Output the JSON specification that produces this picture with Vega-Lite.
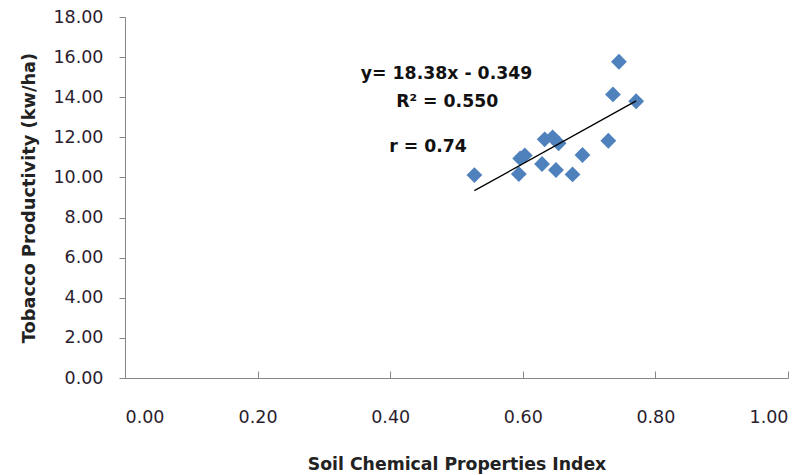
{
  "$schema": "https://vega.github.io/schema/vega-lite/v6.json",
  "width": 663,
  "height": 361,
  "autosize": {"type": "none"},
  "padding": {"left": 125, "top": 17, "right": 24, "bottom": 97},
  "background": "white",
  "config": {"view": {"stroke": null}, "font": "DejaVu Sans"},
  "datasets": {
    "points": [
      {"sci": 0.527, "prod": 10.12},
      {"sci": 0.594, "prod": 10.17},
      {"sci": 0.596, "prod": 10.95},
      {"sci": 0.603, "prod": 11.10},
      {"sci": 0.629, "prod": 10.67},
      {"sci": 0.633, "prod": 11.90},
      {"sci": 0.645, "prod": 12.00},
      {"sci": 0.650, "prod": 10.37},
      {"sci": 0.654, "prod": 11.70},
      {"sci": 0.675, "prod": 10.15},
      {"sci": 0.690, "prod": 11.12},
      {"sci": 0.729, "prod": 11.83},
      {"sci": 0.736, "prod": 14.14},
      {"sci": 0.745, "prod": 15.77},
      {"sci": 0.771, "prod": 13.80}
    ],
    "trend": [
      {"sci": 0.527, "prod": 9.34},
      {"sci": 0.771, "prod": 13.82}
    ],
    "notes": [
      {"sci": 0.485, "prod": 15.15, "label": "y= 18.38x - 0.349"},
      {"sci": 0.486, "prod": 13.77, "label": "R² = 0.550"},
      {"sci": 0.457, "prod": 11.52, "label": "r = 0.74"}
    ]
  },
  "layer": [
    {
      "data": {"name": "points"},
      "mark": {"type": "point", "shape": "diamond", "filled": true, "size": 250, "color": "#4F81BD", "opacity": 1},
      "encoding": {
        "x": {
          "field": "sci", "type": "quantitative",
          "scale": {"domain": [0, 1], "nice": false, "zero": true},
          "axis": {
            "title": "Soil Chemical  Properties Index",
            "values": [0, 0.2, 0.4, 0.6, 0.8, 1.0],
            "format": ".2f",
            "grid": false,
            "domainColor": "#868686",
            "tickColor": "#868686",
            "tickSize": -7,
            "labelPadding": 37,
            "labelFontSize": 17.5,
            "labelColor": "#2b1d2e",
            "labelFont": "DejaVu Sans",
            "titleFont": "DejaVu Sans",
            "titleFontSize": 17.3,
            "titleFontWeight": "bold",
            "titleColor": "#222222",
            "titlePadding": 30
          }
        },
        "y": {
          "field": "prod", "type": "quantitative",
          "scale": {"domain": [0, 18], "nice": false},
          "axis": {
            "title": "Tobacco  Productivity (kw/ha)",
            "values": [0, 2, 4, 6, 8, 10, 12, 14, 16, 18],
            "format": ".2f",
            "grid": false,
            "domainColor": "#868686",
            "tickColor": "#868686",
            "tickSize": 6,
            "labelPadding": 16,
            "labelFontSize": 17.5,
            "labelColor": "#2b1d2e",
            "labelFont": "DejaVu Sans",
            "titleFont": "DejaVu Sans",
            "titleFontSize": 17.8,
            "titleFontWeight": "bold",
            "titleColor": "#222222",
            "titlePadding": 14
          }
        }
      }
    },
    {
      "data": {"name": "trend"},
      "mark": {"type": "line", "color": "#000000", "strokeWidth": 1.3},
      "encoding": {
        "x": {"field": "sci", "type": "quantitative"},
        "y": {"field": "prod", "type": "quantitative"}
      }
    },
    {
      "data": {"name": "notes"},
      "mark": {"type": "text", "font": "DejaVu Sans", "fontSize": 17.3, "fontWeight": "bold", "color": "#111111", "align": "center", "baseline": "middle"},
      "encoding": {
        "x": {"field": "sci", "type": "quantitative"},
        "y": {"field": "prod", "type": "quantitative"},
        "text": {"field": "label"}
      }
    }
  ]
}
